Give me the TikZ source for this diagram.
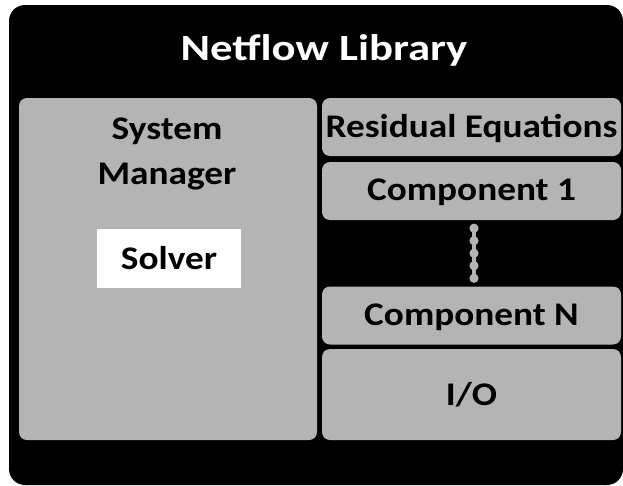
\documentclass[tikz,border=0pt]{standalone}
\usepackage{fontspec}
\setmainfont{Carlito}
\newfontfamily\boxfont[FakeStretch=1.13]{Carlito}
\newfontfamily\titlefont[FakeStretch=1.21]{Carlito}
\usetikzlibrary{calc}
\definecolor{panelgray}{HTML}{B4B4B4}
\tikzset{
  label text/.style={font=\boxfont\bfseries\fontsize{33}{36}\selectfont},
  panel/.style={fill=panelgray, rounded corners=8pt, inner sep=0pt, label text, text depth=2pt},
  chain/.style={draw=panelgray, line width=4pt},
  bead/.style={fill=panelgray},
}
\begin{document}
\begin{tikzpicture}[x=1pt,y=-1pt]
\useasboundingbox (0,0) rectangle (623,485);
% outer frame
\fill[black, rounded corners=16pt] (9,5) rectangle (623,485);
\node[font=\titlefont\bfseries\fontsize{37}{40}\selectfont, text=white] (title) at (324,50) {Netflow Library};
% system manager column
\node[panel, minimum width=298pt, minimum height=342pt] (sys) at (168,269) {};
\node[label text, align=center] (sysl) at (167,154) {System\\[9pt]Manager};
\node[fill=white, minimum width=144pt, minimum height=59pt, inner sep=0pt, label text] (solver) at (169,258.5) {Solver};
% library modules
\node[panel, minimum width=299pt, minimum height=58pt] (res) at (471.5,127) {Residual Equations};
\node[panel, minimum width=299pt, minimum height=58pt] (c1) at (471.5,191) {Component 1};
\node[panel, minimum width=299pt, minimum height=58pt] (cN) at (471.5,315.5) {Component N};
\node[panel, minimum width=299pt, minimum height=91pt] (io) at (471.5,394.5) {I/O};
% bead chain between the first and last component
\coordinate (ct) at ($(c1.south)+(2.5,8)$);
\coordinate (cb) at ($(cN.north)+(2.5,-8)$);
\draw[chain] (ct) -- (cb);
\foreach \t in {0,0.25,0.5,0.75,1}
  \fill[bead] ($(ct)!\t!(cb)$) circle (4.6pt);
\end{tikzpicture}
\end{document}
